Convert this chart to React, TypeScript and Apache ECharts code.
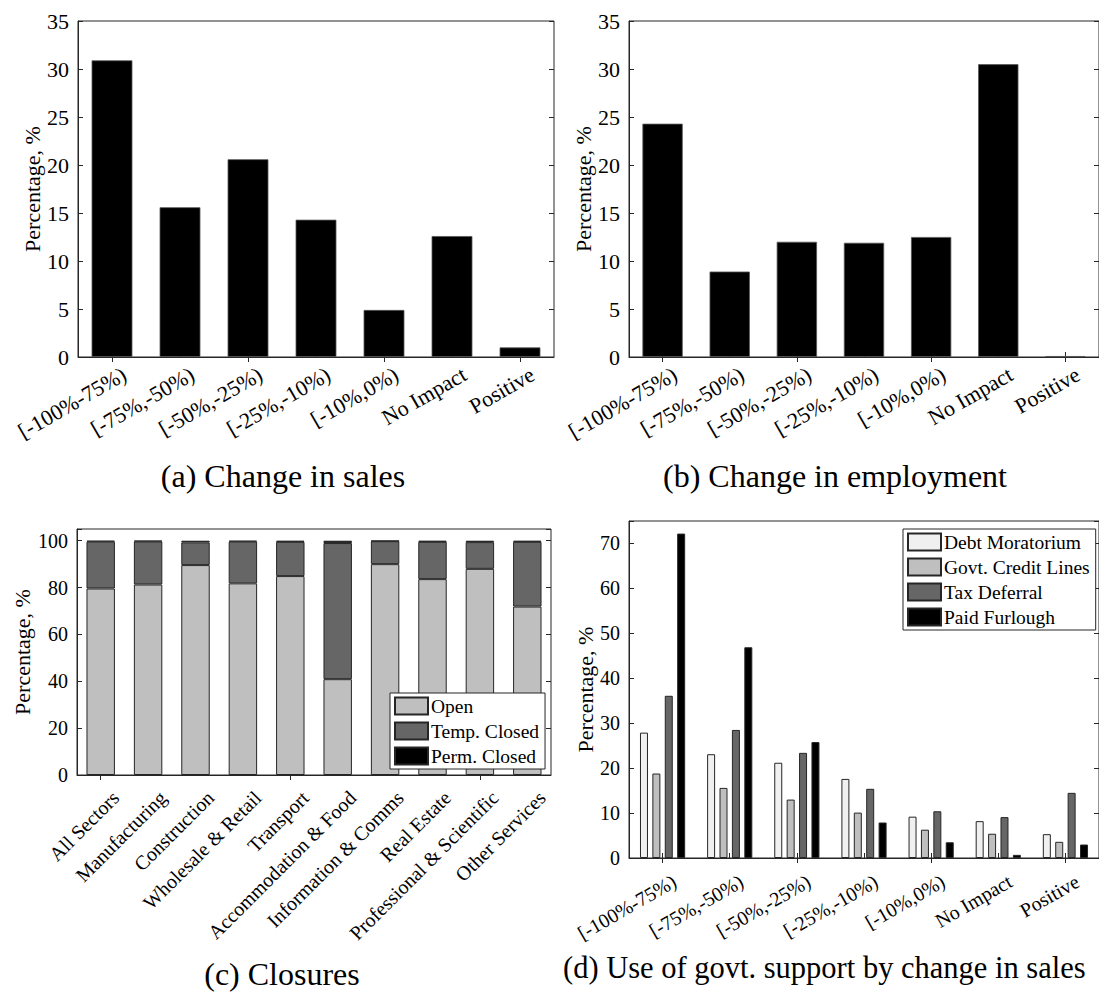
import React, { useEffect, useRef } from "react";
import * as echarts from "echarts";

const salesBins = ["[-100%-75%)", "[-75%,-50%)", "[-50%,-25%)", "[-25%,-10%)", "[-10%,0%)", "No Impact", "Positive"];
const salesChange = [30.9, 15.6, 20.6, 14.3, 4.9, 12.6, 1.0];
const employmentChange = [24.3, 8.9, 12.0, 11.9, 12.5, 30.5, 0.1];

const sectors = [
  "All Sectors", "Manufacturing", "Construction", "Wholesale & Retail", "Transport",
  "Accommodation & Food", "Information & Comms", "Real Estate", "Professional & Scientific", "Other Services",
];
const openShare = [79.6, 81.3, 89.6, 81.8, 84.9, 40.9, 90.0, 83.6, 88.0, 71.9];
const tempClosedShare = [20.0, 18.4, 9.7, 17.8, 14.6, 58.1, 9.8, 15.9, 11.4, 27.6];
const permClosedShare = [0.4, 0.3, 0.7, 0.4, 0.5, 1.0, 0.2, 0.5, 0.6, 0.5];

const debtMoratorium = [27.9, 23.1, 21.2, 17.6, 9.2, 8.2, 5.3];
const govtCreditLines = [18.8, 15.6, 13.0, 10.1, 6.3, 5.4, 3.6];
const taxDeferral = [36.1, 28.5, 23.4, 15.4, 10.4, 9.1, 14.5];
const paidFurlough = [72.2, 46.9, 25.8, 7.9, 3.5, 0.7, 3.0];

const captions = [
  "(a) Change in sales",
  "(b) Change in employment",
  "(c) Closures",
  "(d) Use of govt. support by change in sales",
];

const FONT = "Liberation Serif";
const AX = "#262626";
const EDGE = "#262626";

function catAxes(gridIndex: number, data: string[], rotate: number, fontSize: number, margin: number, shift: number) {
  return [
    {
      type: "category", gridIndex, data, position: "bottom",
      axisLine: { show: true, lineStyle: { color: AX, width: 1 } },
      axisTick: { show: true, inside: true, length: 5, alignWithLabel: true, lineStyle: { color: AX } },
      axisLabel: {
        interval: 0, rotate, fontFamily: FONT, fontSize, color: "#000", margin,
        align: "right", verticalAlign: "top", padding: [0, -shift, 0, 0],
      },
    },
    {
      type: "category", gridIndex, data, position: "top",
      axisLine: { show: false },
      axisTick: { show: true, inside: true, length: 5, alignWithLabel: true, lineStyle: { color: AX } },
      axisLabel: { show: false },
    },
  ];
}

function valAxes(gridIndex: number, max: number, interval: number, fontSize: number, nameGap: number) {
  return [
    {
      type: "value", gridIndex, min: 0, max, interval, position: "left",
      axisLine: { show: true, lineStyle: { color: AX, width: 1 } },
      axisTick: { show: true, inside: true, length: 5, lineStyle: { color: AX } },
      splitLine: { show: false },
      axisLabel: {
        fontFamily: FONT, fontSize, color: "#000", margin: 9,
        formatter: (v: number) => (v % interval === 0 ? String(v) : ""),
      },
      name: "Percentage, %", nameLocation: "middle", nameGap,
      nameTextStyle: { fontFamily: FONT, fontSize: 22, color: "#000" },
    },
    {
      type: "value", gridIndex, min: 0, max, interval, position: "right",
      axisLine: { show: false },
      axisTick: { show: true, inside: true, length: 5, lineStyle: { color: AX } },
      splitLine: { show: false },
      axisLabel: { show: false },
    },
  ];
}

const gridBase = { show: true, borderColor: AX, borderWidth: 1, backgroundColor: "transparent" };

function caption(text: string, x: number, y: number, size: number, align: string) {
  return {
    type: "text", x, y,
    style: { text, fontFamily: FONT, fontSize: size, fill: "#000", align, verticalAlign: "middle", textAlign: align, textVerticalAlign: "middle" },
  };
}

export default function App() {
  const ref = useRef<HTMLDivElement>(null);
  useEffect(() => {
    if (!ref.current) return;
    const chart = echarts.init(ref.current, undefined, { renderer: "svg" });
    const legendCommon = {
      orient: "vertical", icon: "rect", itemWidth: 33, itemHeight: 17, itemGap: 5,
      borderColor: AX, borderWidth: 1, backgroundColor: "#fff", selectedMode: false,
      textStyle: { fontFamily: FONT, fontSize: 19.5, color: "#000", padding: [0, 0, 0, -2] },
    };
    chart.setOption({
      animation: false,
      backgroundColor: "#fff",
      textStyle: { fontFamily: FONT },
      grid: [
        { ...gridBase, left: 78, top: 21, width: 476, height: 336 },
        { ...gridBase, left: 629, top: 21, width: 476, height: 336 },
        { ...gridBase, left: 77, top: 529, width: 474, height: 246 },
        { ...gridBase, left: 629, top: 521, width: 476, height: 337 },
      ],
      xAxis: [
        ...catAxes(0, salesBins, 30, 22, 10, 8),
        ...catAxes(1, salesBins, 30, 22, 10, 8),
        ...catAxes(2, sectors, 45, 20, 20, 11),
        ...catAxes(3, salesBins, 30, 20, 17, 8),
      ],
      yAxis: [
        ...valAxes(0, 35, 5, 22, 30),
        ...valAxes(1, 35, 5, 22, 30),
        ...valAxes(2, 105, 20, 20, 44),
        ...valAxes(3, 75, 10, 20, 32),
      ],
      legend: [
        { ...legendCommon, data: ["Open", "Temp. Closed", "Perm. Closed"], left: 390, top: 693, padding: [3, 6, 3, 4] },
        { ...legendCommon, data: ["Debt Moratorium", "Govt. Credit Lines", "Tax Deferral", "Paid Furlough"], left: 903, top: 529, padding: [3, 6, 3, 4] },
      ],
      series: [
        {
          name: "Change in sales", type: "bar", xAxisIndex: 0, yAxisIndex: 0, data: salesChange, barWidth: "60%",
          itemStyle: { color: "#000", borderColor: "#555", borderWidth: 0.8 },
        },
        {
          name: "Change in employment", type: "bar", xAxisIndex: 2, yAxisIndex: 2, data: employmentChange, barWidth: "60%",
          itemStyle: { color: "#000", borderColor: "#555", borderWidth: 0.8 },
        },
        {
          name: "Open", type: "bar", stack: "c", xAxisIndex: 4, yAxisIndex: 4, data: openShare, barWidth: "60%",
          itemStyle: { color: "#bfbfbf", borderColor: EDGE, borderWidth: 1 },
        },
        {
          name: "Temp. Closed", type: "bar", stack: "c", xAxisIndex: 4, yAxisIndex: 4, data: tempClosedShare, barWidth: "60%",
          itemStyle: { color: "#666666", borderColor: EDGE, borderWidth: 1 },
        },
        {
          name: "Perm. Closed", type: "bar", stack: "c", xAxisIndex: 4, yAxisIndex: 4, data: permClosedShare, barWidth: "60%",
          itemStyle: { color: "#000", borderColor: EDGE, borderWidth: 1 },
        },
        {
          name: "Debt Moratorium", type: "bar", xAxisIndex: 6, yAxisIndex: 6, data: debtMoratorium, barWidth: 8, barGap: "55%",
          itemStyle: { color: "#f0f0f0", borderColor: EDGE, borderWidth: 1 },
        },
        {
          name: "Govt. Credit Lines", type: "bar", xAxisIndex: 6, yAxisIndex: 6, data: govtCreditLines, barWidth: 8, barGap: "55%",
          itemStyle: { color: "#bfbfbf", borderColor: EDGE, borderWidth: 1 },
        },
        {
          name: "Tax Deferral", type: "bar", xAxisIndex: 6, yAxisIndex: 6, data: taxDeferral, barWidth: 8, barGap: "55%",
          itemStyle: { color: "#666666", borderColor: EDGE, borderWidth: 1 },
        },
        {
          name: "Paid Furlough", type: "bar", xAxisIndex: 6, yAxisIndex: 6, data: paidFurlough, barWidth: 8, barGap: "55%",
          itemStyle: { color: "#000", borderColor: EDGE, borderWidth: 1 },
        },
      ],
      graphic: [
        caption(captions[0], 283, 476, 32, "center"),
        caption(captions[1], 835, 476, 32, "center"),
        caption(captions[2], 282, 974, 32, "center"),
        caption(captions[3], 563, 968, 30.5, "left"),
      ],
    });
    return () => chart.dispose();
  }, []);
  return <div ref={ref} style={{ position: "absolute", left: 0, top: 0, width: 1099, height: 995 }} />;
}
